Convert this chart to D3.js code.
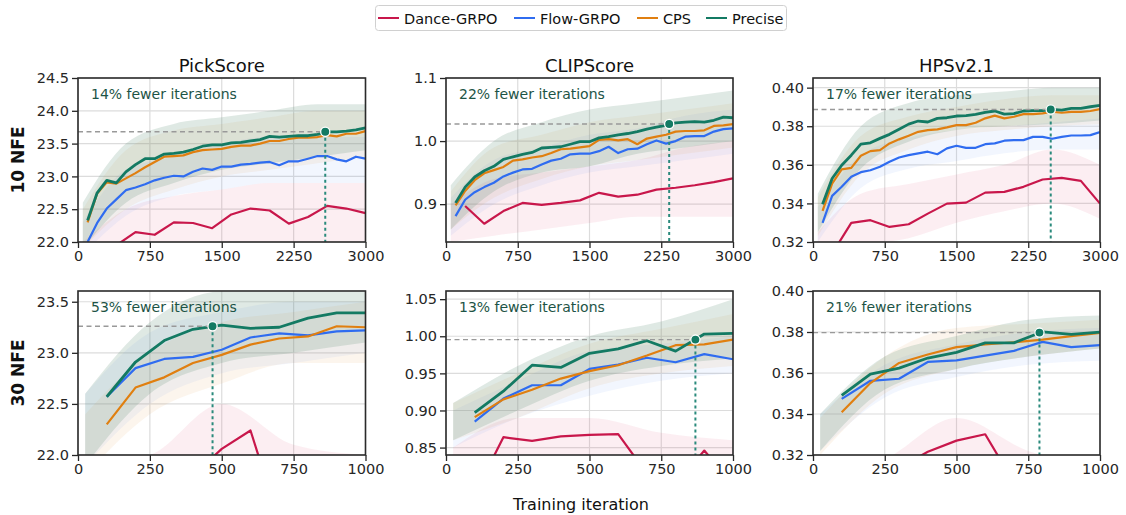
<!DOCTYPE html>
<html><head><meta charset="utf-8">
<script src="https://cdn.jsdelivr.net/npm/d3@7"></script>
<style>
body{margin:0;background:#fff;}
svg{display:block;font-family:"DejaVu Sans",sans-serif;}
</style></head>
<body><svg id="c" width="1126" height="515"></svg>
<script>
// ---------- DATA ----------
const seriesNames = ["Dance-GRPO","Flow-GRPO","CPS","Precise"];
const metricTitles = ["PickScore","CLIPScore","HPSv2.1"];
const rowLabels = ["10 NFE","30 NFE"];
const xTicksTop = [0,750,1500,2250,3000];
const xTicksBottom = [0,250,500,750,1000];

const itTop = [100,200,300,400,500,600,700,800,900,1000,1100,1200,1300,1400,1500,1600,1700,1800,1900,2000,2100,2200,2300,2400,2500,2600,2700,2800,2900,3000];
const itTopRed = [200,400,600,800,1000,1200,1400,1600,1800,2000,2200,2400,2600,2800,3000];
const itBottom = [100,200,300,400,500,600,700,800,900,1000];
const bandItTop = [50,500,1000,1500,2000,2500,3000];
const bandItBottom = [25,250,500,750,1000];

// PickScore, 10 NFE
const pick10Precise = [22.33,22.75,22.94,22.90,23.07,23.18,23.27,23.27,23.34,23.35,23.37,23.41,23.46,23.48,23.48,23.51,23.52,23.54,23.56,23.61,23.60,23.61,23.62,23.62,23.64,23.68,23.68,23.69,23.71,23.74];
const pick10CPS = [22.30,22.74,22.91,22.89,22.97,23.05,23.14,23.22,23.30,23.31,23.32,23.37,23.40,23.41,23.42,23.45,23.47,23.47,23.50,23.54,23.54,23.57,23.59,23.59,23.60,23.63,23.61,23.65,23.65,23.69];
const pick10Flow = [22.00,22.29,22.51,22.65,22.79,22.83,22.88,22.94,22.98,23.01,23.00,23.07,23.12,23.10,23.15,23.15,23.18,23.19,23.21,23.22,23.17,23.23,23.23,23.27,23.31,23.31,23.26,23.23,23.30,23.27];
const pick10Dance = [21.75,21.95,22.15,22.11,22.30,22.29,22.21,22.42,22.51,22.48,22.28,22.38,22.55,22.51,22.44];

// CLIPScore, 10 NFE
const clip10Precise = [0.902,0.927,0.943,0.953,0.960,0.971,0.975,0.979,0.982,0.989,0.990,0.991,0.995,0.999,0.999,1.005,1.007,1.010,1.012,1.015,1.019,1.022,1.025,1.029,1.030,1.031,1.030,1.033,1.038,1.037];
const clip10CPS = [0.898,0.921,0.938,0.949,0.954,0.959,0.969,0.971,0.974,0.976,0.981,0.987,0.988,0.990,0.992,1.002,1.003,1.001,1.003,0.995,1.004,1.007,1.010,1.015,1.016,1.016,1.017,1.024,1.025,1.027];
const clip10Flow = [0.881,0.907,0.919,0.927,0.934,0.944,0.950,0.955,0.956,0.963,0.969,0.972,0.979,0.980,0.980,0.984,0.991,0.981,0.987,0.988,0.995,1.001,0.996,1.000,1.007,1.008,1.008,1.015,1.019,1.020];
const clip10Dance = [0.897,0.869,0.889,0.902,0.899,0.902,0.906,0.918,0.912,0.915,0.923,0.926,0.930,0.935,0.941];

// HPSv2.1, 10 NFE
const hps10Precise = [0.3396,0.3529,0.3598,0.3650,0.3707,0.3714,0.3737,0.3758,0.3784,0.3811,0.3827,0.3822,0.3841,0.3844,0.3853,0.3855,0.3861,0.3872,0.3879,0.3863,0.3865,0.3879,0.3881,0.3881,0.3887,0.3884,0.3893,0.3893,0.3901,0.3908];
const hps10CPS = [0.3361,0.3503,0.3576,0.3584,0.3647,0.3671,0.3676,0.3711,0.3732,0.3751,0.3771,0.3780,0.3784,0.3794,0.3806,0.3806,0.3818,0.3841,0.3855,0.3841,0.3849,0.3863,0.3863,0.3867,0.3875,0.3870,0.3874,0.3874,0.3879,0.3889];
const hps10Flow = [0.3299,0.3439,0.3486,0.3538,0.3562,0.3572,0.3590,0.3616,0.3638,0.3650,0.3659,0.3668,0.3655,0.3685,0.3699,0.3688,0.3688,0.3707,0.3711,0.3725,0.3728,0.3728,0.3745,0.3745,0.3735,0.3745,0.3752,0.3752,0.3754,0.3770];
const hps10Dance = [0.3140,0.3299,0.3313,0.3278,0.3292,0.3347,0.3399,0.3404,0.3456,0.3460,0.3486,0.3524,0.3532,0.3517,0.3399];

// PickScore, 30 NFE
const pick30Precise = [22.57,22.91,23.12,23.23,23.27,23.24,23.25,23.34,23.39,23.39];
const pick30CPS = [22.30,22.66,22.76,22.90,22.98,23.08,23.14,23.16,23.26,23.25];
const pick30Flow = [22.57,22.85,22.94,22.96,23.03,23.15,23.19,23.17,23.21,23.22];
const pick30Dance = [21.50,21.70,21.60,21.80,22.06,22.24,21.35,21.50,21.60,21.60];

// CLIPScore, 30 NFE
const clip30Precise = [0.897,0.926,0.961,0.958,0.977,0.983,0.994,0.980,1.003,1.004];
const clip30CPS = [0.891,0.915,0.928,0.943,0.953,0.961,0.974,0.988,0.989,0.9955];
const clip30Flow = [0.885,0.916,0.934,0.934,0.956,0.962,0.971,0.965,0.976,0.969];
const clip30Dance = [0.787,0.864,0.859,0.865,0.867,0.868,0.815,0.800,0.846,0.800];

// HPSv2.1, 30 NFE
const hps30Precise = [0.3491,0.3595,0.3624,0.3673,0.3701,0.3747,0.3747,0.3801,0.3788,0.3799];
const hps30CPS = [0.3409,0.3551,0.3649,0.3690,0.3726,0.3739,0.3750,0.3763,0.3780,0.3796];
const hps30Flow = [0.3474,0.3562,0.3572,0.3654,0.3662,0.3685,0.3708,0.3752,0.3726,0.3736];
const hps30Dance = [0.300,0.310,0.3136,0.3216,0.3270,0.3301,0.3066,0.300,0.300,0.300];

// raw-sample spread (low / high envelopes), per series [Dance, Flow, CPS, Precise]
const pick10Lo = [[21.5,21.7,21.8,21.9,22.0,22.0,22.0],[21.8,22.4,22.7,22.8,22.9,22.9,22.9],[21.9,22.5,22.8,23.0,23.1,23.2,23.3],[21.9,22.6,22.9,23.1,23.2,23.3,23.4]];
const pick10Hi = [[22.0,22.5,22.7,22.8,22.9,22.9,22.9],[22.3,23.1,23.3,23.5,23.6,23.6,23.6],[22.5,23.4,23.7,23.8,23.9,24.0,24.0],[22.6,23.5,23.8,23.9,24.0,24.1,24.1]];
const clip10Lo = [[0.84,0.85,0.86,0.87,0.88,0.88,0.88],[0.85,0.90,0.93,0.95,0.96,0.97,0.98],[0.86,0.91,0.94,0.96,0.97,0.98,0.99],[0.86,0.92,0.95,0.96,0.98,0.99,1.00]];
const clip10Hi = [[0.90,0.94,0.95,0.96,0.97,0.99,1.00],[0.91,0.97,0.99,1.01,1.02,1.04,1.05],[0.92,0.99,1.01,1.03,1.04,1.05,1.06],[0.93,1.00,1.03,1.05,1.06,1.07,1.08]];
const hps10Lo = [[0.310,0.318,0.322,0.330,0.336,0.340,0.332],[0.320,0.348,0.358,0.362,0.366,0.368,0.368],[0.323,0.355,0.368,0.375,0.378,0.380,0.381],[0.325,0.358,0.372,0.378,0.380,0.381,0.383]];
const hps10Hi = [[0.325,0.345,0.350,0.355,0.360,0.368,0.360],[0.338,0.365,0.374,0.378,0.380,0.382,0.384],[0.343,0.375,0.385,0.390,0.394,0.396,0.396],[0.345,0.380,0.392,0.396,0.398,0.400,0.400]];
const pick30Lo = [[21.5,21.6,21.8,21.7,21.6],[21.9,22.5,22.8,22.9,23.0],[21.8,22.4,22.7,22.9,22.9],[21.9,22.6,22.9,23.0,23.1]];
const pick30Hi = [[21.9,22.0,22.5,22.1,22.0],[22.6,23.2,23.4,23.5,23.5],[22.4,23.0,23.3,23.4,23.5],[22.6,23.3,23.6,23.6,23.6]];
const clip30Lo = [[0.80,0.82,0.83,0.82,0.82],[0.85,0.89,0.92,0.94,0.95],[0.86,0.89,0.93,0.95,0.96],[0.86,0.90,0.94,0.96,0.97]];
const clip30Hi = [[0.85,0.89,0.89,0.87,0.86],[0.90,0.94,0.98,0.99,1.00],[0.91,0.95,0.99,1.01,1.03],[0.91,0.96,1.00,1.02,1.05]];
const hps30Lo = [[0.300,0.305,0.318,0.310,0.305],[0.322,0.348,0.358,0.364,0.366],[0.320,0.350,0.362,0.368,0.372],[0.322,0.352,0.362,0.368,0.372]];
const hps30Hi = [[0.310,0.318,0.338,0.322,0.315],[0.340,0.364,0.374,0.380,0.382],[0.338,0.368,0.382,0.384,0.386],[0.340,0.368,0.378,0.386,0.388]];

// y-axis ticks and ranges
const yTicks = [[22.0,22.5,23.0,23.5,24.0,24.5],[0.9,1.0,1.1],[0.32,0.34,0.36,0.38,0.40],
                [22.0,22.5,23.0,23.5],[0.85,0.90,0.95,1.00,1.05],[0.32,0.34,0.36,0.38,0.40]];
const yDomains = [[22.0,24.5],[0.84,1.1],[0.32,0.405],[22.0,23.605],[0.84,1.061],[0.32,0.40]];
const yFormats = [".1f",".1f",".2f",".1f",".2f",".2f"];

// "fewer iterations" annotations: percent, iteration where Precise reaches baseline final value, that value
const savingPct = [14,22,17,53,13,21];
const reachIter = [2580,2333,2485,468,869,789];
const reachValue = [23.68,1.027,0.3887,23.26,0.9955,0.3797];

// ---------- STYLE ----------
const colors = ["#c8174b","#2f6cf0","#e07f10","#137a63"];
const widths = [2.2,2.2,2.2,2.8];
const bandFill = ["#d9456f","#5b8cf2","#e6a050","#5f907a"];
const bandOpacity = [0.09,0.08,0.10,0.2];
const txt = "#262626";

// ---------- BUILD ----------
const panels = [
  {lines:[pick10Dance,pick10Flow,pick10CPS,pick10Precise], lo:pick10Lo, hi:pick10Hi, top:true},
  {lines:[clip10Dance,clip10Flow,clip10CPS,clip10Precise], lo:clip10Lo, hi:clip10Hi, top:true},
  {lines:[hps10Dance,hps10Flow,hps10CPS,hps10Precise], lo:hps10Lo, hi:hps10Hi, top:true},
  {lines:[pick30Dance,pick30Flow,pick30CPS,pick30Precise], lo:pick30Lo, hi:pick30Hi, top:false},
  {lines:[clip30Dance,clip30Flow,clip30CPS,clip30Precise], lo:clip30Lo, hi:clip30Hi, top:false},
  {lines:[hps30Dance,hps30Flow,hps30CPS,hps30Precise], lo:hps30Lo, hi:hps30Hi, top:false}
];

const svg = d3.select("#c");
const colX = [[78,365.5],[446,733],[813,1100]];
const rowY = [[78,242],[291,455]];

panels.forEach((p,i)=>{
  const col = i%3, row = Math.floor(i/3);
  const x = d3.scaleLinear().domain(p.top?[0,3000]:[0,1000]).range(colX[col]);
  const y = d3.scaleLinear().domain(yDomains[i]).range([rowY[row][1],rowY[row][0]]);
  const g = svg.append("g");
  const cid = "clip"+i;
  svg.append("clipPath").attr("id",cid).append("rect")
    .attr("x",colX[col][0]).attr("y",rowY[row][0])
    .attr("width",colX[col][1]-colX[col][0]).attr("height",rowY[row][1]-rowY[row][0]);

  const xt = p.top?xTicksTop:xTicksBottom;
  // grid
  g.append("g").selectAll("line").data(xt).join("line")
    .attr("x1",d=>x(d)).attr("x2",d=>x(d)).attr("y1",rowY[row][0]).attr("y2",rowY[row][1])
    .attr("stroke","#dcdcdc").attr("stroke-width",1.2);
  g.append("g").selectAll("line").data(yTicks[i]).join("line")
    .attr("x1",colX[col][0]).attr("x2",colX[col][1]).attr("y1",d=>y(d)).attr("y2",d=>y(d))
    .attr("stroke","#dcdcdc").attr("stroke-width",1.2);

  const pg = g.append("g").attr("clip-path",`url(#${cid})`);
  const bit = p.top?bandItTop:bandItBottom;
  // raw spread bands
  [0,1,2,3].forEach(s=>{
    const area = d3.area().curve(d3.curveMonotoneX)
      .x((d,k)=>x(bit[k])).y0((d,k)=>y(p.lo[s][k])).y1((d,k)=>y(p.hi[s][k]));
    pg.append("path").attr("d",area(bit))
      .attr("fill",bandFill[s]).attr("opacity",bandOpacity[s]);
  });
  // smoothed lines
  [0,1,2,3].forEach(s=>{
    const its = (p.top && s===0)?itTopRed:(p.top?itTop:itBottom);
    const line = d3.line().x((d,k)=>x(its[k])).y(d=>y(d));
    pg.append("path").attr("d",line(p.lines[s]))
      .attr("fill","none").attr("stroke",colors[s]).attr("stroke-width",widths[s])
      .attr("stroke-linejoin","round");
  });
  // reference lines
  g.append("line").attr("x1",colX[col][0]).attr("x2",x(reachIter[i]))
    .attr("y1",y(reachValue[i])).attr("y2",y(reachValue[i]))
    .attr("stroke","#999").attr("stroke-width",1.4).attr("stroke-dasharray","5,3.5");
  g.append("line").attr("x1",x(reachIter[i])).attr("x2",x(reachIter[i]))
    .attr("y1",y(reachValue[i])).attr("y2",rowY[row][1])
    .attr("stroke","#2a8a7c").attr("stroke-width",2).attr("stroke-dasharray","3,3");
  g.append("circle").attr("cx",x(reachIter[i])).attr("cy",y(reachValue[i])).attr("r",4.6)
    .attr("fill","#137a63").attr("stroke","#fff").attr("stroke-width",1.3);
  // annotation
  g.append("text").attr("x",colX[col][0]+13).attr("y",rowY[row][0]+21)
    .attr("fill","#1d5446").attr("font-size",14).text(`${savingPct[i]}% fewer iterations`);

  // axes
  const ax = g.append("g").attr("transform",`translate(0,${rowY[row][1]})`)
    .call(d3.axisBottom(x).tickValues(xt).tickFormat(d3.format("d")).tickSizeOuter(0).tickSize(6).tickPadding(3));
  const ay = g.append("g").attr("transform",`translate(${colX[col][0]},0)`)
    .call(d3.axisLeft(y).tickValues(yTicks[i]).tickFormat(d3.format(yFormats[i])).tickSizeOuter(0).tickSize(6).tickPadding(3));
  [ax,ay].forEach(a=>{
    a.select(".domain").remove();
    a.selectAll("line").attr("stroke",txt).attr("stroke-width",1.3);
    a.selectAll("text").attr("fill",txt).attr("font-size",14.5).attr("font-family","DejaVu Sans");
  });
  // spines
  g.append("rect").attr("x",colX[col][0]).attr("y",rowY[row][0])
    .attr("width",colX[col][1]-colX[col][0]).attr("height",rowY[row][1]-rowY[row][0])
    .attr("fill","none").attr("stroke","#2b2b2b").attr("stroke-width",1.6);

  if(row===0){
    svg.append("text").attr("x",(colX[col][0]+colX[col][1])/2).attr("y",rowY[0][0]-6)
      .attr("text-anchor","middle").attr("font-size",18).attr("fill","#111").text(metricTitles[col]);
  }
});

// row labels
rowLabels.forEach((t,r)=>{
  const cy=(rowY[r][0]+rowY[r][1])/2;
  svg.append("text").attr("transform",`translate(24,${cy}) rotate(-90)`)
    .attr("text-anchor","middle").attr("font-size",17).attr("font-weight","bold").attr("fill","#111").text(t);
});
// x label
svg.append("text").attr("x",581).attr("y",510).attr("text-anchor","middle")
  .attr("font-size",16).attr("fill","#111").text("Training iteration");

// legend
const lg = svg.append("g");
lg.append("rect").attr("x",375.5).attr("y",5.5).attr("width",411).attr("height",25).attr("rx",3)
  .attr("fill","#fff").attr("stroke","#d0d0d0").attr("stroke-width",1);
const legX = [378,514,637,706];
seriesNames.forEach((n,s)=>{
  lg.append("line").attr("x1",legX[s]).attr("x2",legX[s]+21).attr("y1",18).attr("y2",18)
    .attr("stroke",colors[s]).attr("stroke-width",2);
  lg.append("text").attr("x",legX[s]+26).attr("y",23.5).attr("font-size",14.5).attr("fill","#111").text(n);
});
</script></body></html>
